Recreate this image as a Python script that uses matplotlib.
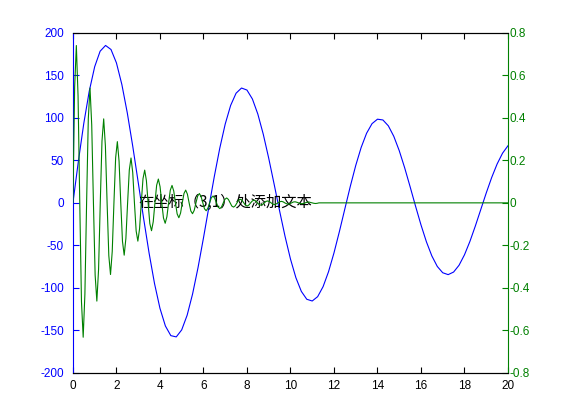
import numpy as np
import matplotlib
matplotlib.use("Agg")
import matplotlib.pyplot as plt

plt.rcParams['font.family'] = ['Liberation Sans', 'Noto Sans CJK SC', 'DejaVu Sans']

# ---- data ----
# blue series (left axis), sampled every 0.25 on x from 0 to 20
blue_step = 0.25
blue_y = [0.0, 48.86, 93.52, 131.31, 160.09, 178.30, 185.08, 180.31, 164.56, 139.06,
          105.63, 66.52, 24.29, -18.39, -58.89, -94.77, -123.92, -144.73, -156.11, -157.61,
          -149.36, -132.13, -107.18, -76.25, -41.40, -4.85, 31.09, 64.22, 92.59, 114.56,
          128.93, 135.02, 132.64, 122.15, 104.41, 80.67, 52.56, 21.90, -9.35, -39.25,
          -65.99, -88.01, -104.08, -113.34, -115.39, -110.29, -98.52, -80.98, -58.89, -33.72,
          -7.10, 19.30, 43.87, 65.13, 81.85, 93.13, 98.38, 97.46, 90.56, 78.25,
          61.44, 41.25, 19.02, -3.83, -25.87, -45.79, -62.41, -74.77, -82.18, -84.38,
          -81.34, -73.36, -61.07, -45.31, -27.16, -7.78, 11.59, 29.78, 45.68, 58.40,
          67.17]

# green series (right axis), sampled every pi/40 on x, then flat to x = 20
green_step = np.pi / 40
green_y = [
    0, 0.544, 0.740, 0.503, 0, -0.465, -0.632, -0.430,
    0, 0.397, 0.540, 0.367, 0, -0.340, -0.462, -0.314,
    0, 0.290, 0.395, 0.268, 0, -0.248, -0.337, -0.229,
    0, 0.212, 0.288, 0.196, 0, -0.181, -0.246, -0.167,
    0, 0.155, 0.211, 0.143, 0, -0.132, -0.180, -0.122,
    0, 0.113, 0.154, 0.105, 0, -0.097, -0.131, -0.089,
    0, 0.083, 0.112, 0.076, 0, -0.071, -0.096, -0.065,
    0, 0.060, 0.082, 0.056, 0, -0.052, -0.070, -0.048,
    0, 0.044, 0.060, 0.041, 0, -0.038, -0.051, -0.035,
    0, 0.032, 0.044, 0.030, 0, -0.028, -0.037, -0.025,
    0, 0.024, 0.032, 0.022, 0, -0.020, -0.027, -0.019,
    0, 0.017, 0.023, 0.016, 0, -0.015, -0.020, -0.014,
    0, 0.013, 0.017, 0.012, 0, -0.011, -0.015, -0.010,
    0, 0.009, 0.013, 0.009, 0, -0.008, -0.011, -0.007,
    0, 0.007, 0.009, 0.006, 0, -0.006, -0.008, -0.005,
    0, 0.005, 0.007, 0.005, 0, -0.004, -0.006, -0.004,
    0, 0.004, 0.005, 0.003, 0, -0.003, -0.004, -0.003,
    0, 0.003, 0.004, 0.002, 0, -0.002, -0.003, -0.002,
    0]
green_tail_x = [20.0]
green_tail_y = [0.0]

x_ticks = [0, 2, 4, 6, 8, 10, 12, 14, 16, 18, 20]
left_ticks = [-200, -150, -100, -50, 0, 50, 100, 150, 200]
right_ticks = [-0.8, -0.6, -0.4, -0.2, 0, 0.2, 0.4, 0.6, 0.8]
right_labels = ['-0.8', '-0.6', '-0.4', '-0.2', '0', '0.2', '0.4', '0.6', '0.8']
annot_text = '在坐标（3,1）处添加文本'
annot_pos = (3, 1)

BLUE = (0, 0, 1)
GREEN = (0, 0.5, 0)

blue_x = np.arange(len(blue_y)) * blue_step
green_x = np.concatenate([np.arange(len(green_y)) * green_step, green_tail_x])
green_all = list(green_y) + green_tail_y

fig = plt.figure(figsize=(5.61, 4.2), dpi=100)
ax1 = fig.add_axes([0.13, 0.112, 0.7755, 0.81])
ax2 = ax1.twinx()

ax1.plot(blue_x, blue_y, color=BLUE, lw=0.8)
ax2.plot(green_x, green_all, color=GREEN, lw=0.8)

ax1.set_xlim(0, 20)
ax1.set_ylim(-200, 200)
ax2.set_ylim(-0.8, 0.8)

ax1.set_xticks(x_ticks)
ax1.set_xticklabels([str(t) for t in x_ticks])
ax1.set_yticks(left_ticks)
ax1.set_yticklabels([str(t) for t in left_ticks])
ax2.set_yticks(right_ticks)
ax2.set_yticklabels(right_labels)

ax1.tick_params(axis='x', direction='in', length=4, width=0.8, top=True, colors='black',
                labelsize=8.5, pad=5)
ax1.tick_params(axis='y', direction='in', length=4, width=0.8, colors=BLUE,
                labelsize=8.5, pad=6.5)
ax2.tick_params(axis='y', direction='in', length=4, width=0.8, colors=GREEN,
                labelsize=8.5, pad=1)

for ax in (ax1, ax2):
    for s in ax.spines.values():
        s.set_linewidth(0.8)
ax1.spines['left'].set_color(BLUE)
ax1.spines['right'].set_visible(False)
ax2.spines['left'].set_visible(False)
ax2.spines['right'].set_color(GREEN)
ax2.spines['top'].set_color('black')
ax2.spines['bottom'].set_color('black')

ax1.text(annot_pos[0], annot_pos[1], annot_text, fontsize=11, color='black',
         ha='left', va='center', family=['Noto Sans CJK SC', 'DejaVu Sans'], zorder=5)

fig.savefig('out.png', dpi=100)
